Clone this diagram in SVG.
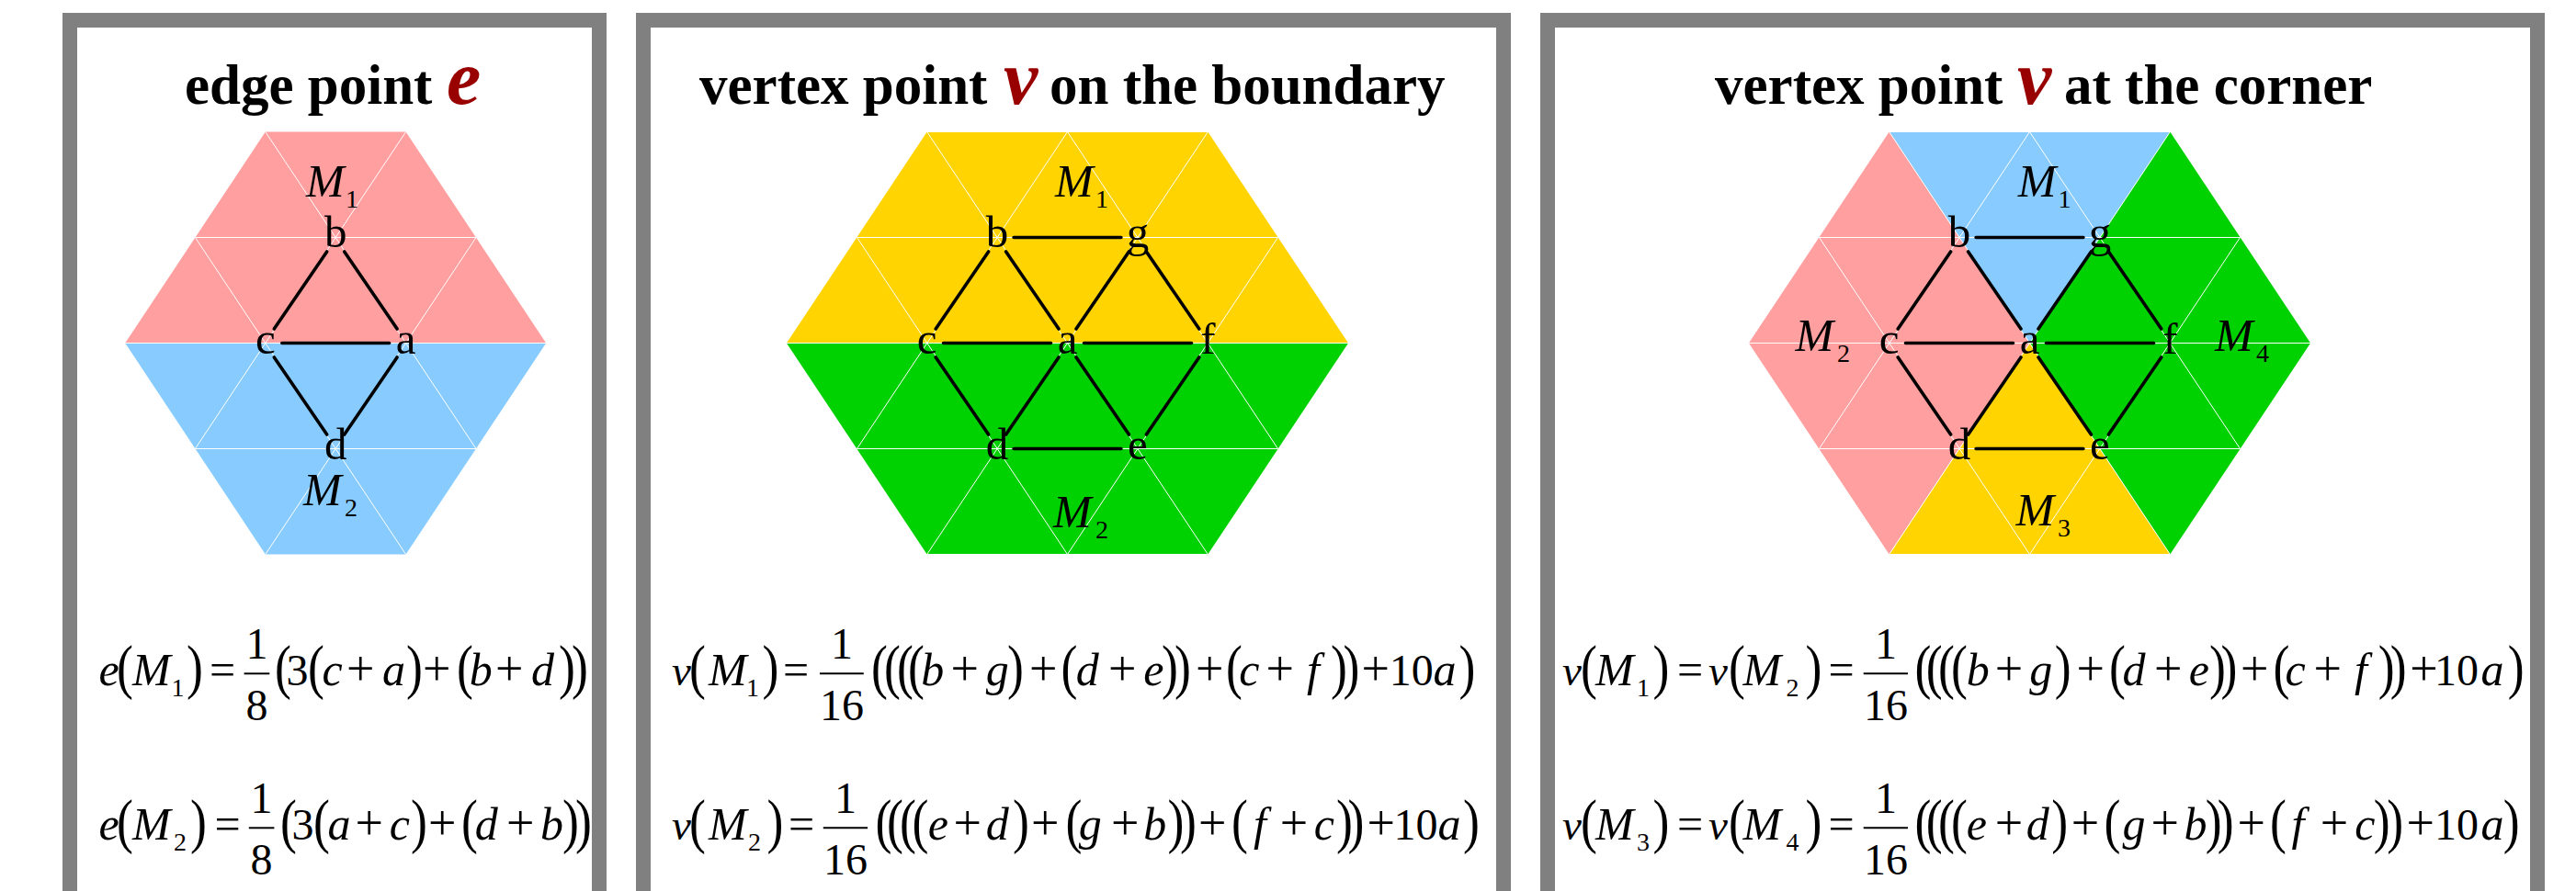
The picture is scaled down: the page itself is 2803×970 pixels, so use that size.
<svg xmlns="http://www.w3.org/2000/svg" width="2803" height="970" viewBox="0 0 2803 970">
<style>
text{font-family:"Liberation Serif","Times New Roman",serif;fill:#000}
.t{font-size:61px;font-weight:bold}
.r{font-size:84px;font-weight:bold;font-style:italic;fill:#990000}
.i{font-size:50px;font-style:italic}
.v{font-size:47px;font-style:italic}
.n{font-size:48px}
.o{font-size:54px}
.e{font-size:50px}
.p{font-size:48px}
.s{font-size:28px}
.l{font-size:49px;text-anchor:middle}
.m{font-size:48px;text-anchor:middle}
.frame{fill:#fff;stroke:#808080;stroke-width:16}
.grid{fill:none;stroke:#fff;stroke-width:1}
.edge{fill:none;stroke:#000;stroke-width:3.6;stroke-linecap:round}
.bar{stroke:#000;stroke-width:2}
.pink{fill:#ff9f9f}.blue{fill:#88ccff}.yellow{fill:#ffd400}.green{fill:#00d100}
</style>
<defs>
<path id="grid6" class="grid" d="M-229-115H229M-305.6 0H305.6M-229 115H229M-152.8-230H152.8M-152.8 230H152.8M-152.8-230L152.8 230M0-230L-229 115M0-230L229 115M152.8-230L-152.8 230M-229-115L0 230M229-115L0 230"/>
</defs>
<rect width="2803" height="970" fill="#fff"/>
<g id="frames">
<rect class="frame" x="76" y="22" width="576" height="1000"/>
<rect class="frame" x="700" y="22" width="936" height="1000"/>
<rect class="frame" x="1684" y="22" width="1077" height="1000"/>
</g>

<g id="panel1">
<text class="t" x="201" y="112.7">edge point</text><text class="r" x="486" y="112.7">e</text>
<g transform="translate(365.2,373.5)">
<path class="pink" d="M-76.4-230H76.4L229 0H-229Z"/>
<path class="blue" d="M-229 0H229L76.4 230H-76.4Z"/>
<path class="grid" d="M-152.8-115H152.8M-229 0H229M-152.8 115H152.8M-76.4-230L152.8 115M76.4-230L-152.8 115M-152.8-115L76.4 230M152.8-115L-76.4 230"/>
</g>
<g id="p1-connectors" transform="translate(365.2,373.5)">
<path class="edge" d="M-58.4 0H58.4M-9.5-99.5L-66.9-15.5M9.5-99.5L66.9-15.5M-66.9 15.5L-9.5 99.5M66.9 15.5L9.5 99.5"/>
</g>
<g id="p1-a"><text class="l" x="441.6" y="384.5">a</text></g>
<g id="p1-b"><text class="l" x="365.2" y="269">b</text></g>
<g id="p1-c"><text class="l" x="288.8" y="384.5">c</text></g>
<g id="p1-d"><text class="l" x="365.2" y="499.5">d</text></g>
<g id="p1-M1"><text class="i" x="333" y="213.5">M</text><text class="s" x="376" y="226">1</text></g>
<g id="p1-M2"><text class="i" x="330" y="549.6">M</text><text class="s" x="375" y="561.5">2</text></g>
<g id="p1-f1" transform="translate(0,746)">
<text class="i" x="107.5">e</text><text class="p" transform="translate(127,1.5) scale(1.12,1.37)">(</text><text class="i" x="144">M</text><text class="s" x="186.5" y="12">1</text><text class="p" transform="translate(203,1.5) scale(1.12,1.37)">)</text><text class="e" x="228">=</text>
<text class="m" x="279.5" y="-29">1</text><line class="bar" x1="265.6" x2="293.3" y1="-12.7" y2="-12.7"/><text class="m" x="279.5" y="38">8</text>
<text class="p" transform="translate(299,1.5) scale(1.12,1.37)">(</text><text class="n" x="311.5">3</text><text class="p" transform="translate(335,1.5) scale(1.12,1.37)">(</text><text class="i" x="350.6">c</text><text class="o" x="377">+</text><text class="i" x="415.9">a</text><text class="p" transform="translate(442,1.5) scale(1.12,1.37)">)</text><text class="o" x="460">+</text><text class="p" transform="translate(497,1.5) scale(1.12,1.37)">(</text><text class="i" x="510.8">b</text><text class="o" x="539">+</text><text class="i" x="578">d</text><text class="p" transform="translate(608,1.5) scale(1.12,1.37)">)</text><text class="p" transform="translate(622,1.5) scale(1.12,1.37)">)</text>
</g>
<g id="p1-f2" transform="translate(0,914)">
<text class="i" x="107.5">e</text><text class="p" transform="translate(127,1.5) scale(1.12,1.37)">(</text><text class="i" x="144">M</text><text class="s" x="189" y="12">2</text><text class="p" transform="translate(207,1.5) scale(1.12,1.37)">)</text><text class="e" x="233.5">=</text>
<text class="m" x="284.6" y="-29">1</text><line class="bar" x1="270.8" x2="298.4" y1="-12.7" y2="-12.7"/><text class="m" x="284.6" y="38">8</text>
<text class="p" transform="translate(305,1.5) scale(1.12,1.37)">(</text><text class="n" x="317.5">3</text><text class="p" transform="translate(341,1.5) scale(1.12,1.37)">(</text><text class="i" x="356.6">a</text><text class="o" x="386.5">+</text><text class="i" x="423.8">c</text><text class="p" transform="translate(447,1.5) scale(1.12,1.37)">)</text><text class="o" x="466">+</text><text class="p" transform="translate(502,1.5) scale(1.12,1.37)">(</text><text class="i" x="516.7">d</text><text class="o" x="551">+</text><text class="i" x="587.9">b</text><text class="p" transform="translate(612,1.5) scale(1.12,1.37)">)</text><text class="p" transform="translate(626,1.5) scale(1.12,1.37)">)</text>
</g>
</g>

<g id="panel2">
<text class="t" x="761" y="112.7">vertex point</text><text class="r" x="1092" y="112.7">v</text><text class="t" x="1142" y="112.7">on the boundary</text>
<g transform="translate(1161.5,373.5)">
<path class="yellow" d="M-152.8-230H152.8L305.6 0H-305.6Z"/>
<path class="green" d="M-305.6 0H305.6L152.8 230H-152.8Z"/>
<use href="#grid6"/>
</g>
<g id="p2-connectors" transform="translate(1161.5,373.5)">
<path class="edge" d="M-58.4-115H58.4M-58.4 115H58.4M-135 0H-18M18 0H135M-85.9-99.5L-143.3-15.5M-66.9-99.5L-9.5-15.5M66.9-99.5L9.5-15.5M85.9-99.5L143.3-15.5M-143.3 15.5L-85.9 99.5M-9.5 15.5L-66.9 99.5M9.5 15.5L66.9 99.5M143.3 15.5L85.9 99.5"/>
</g>
<g id="p2-a"><text class="l" x="1161.5" y="384.5">a</text></g>
<g id="p2-b"><text class="l" x="1085.1" y="269">b</text></g>
<g id="p2-g"><text class="l" x="1237.9" y="269">g</text></g>
<g id="p2-c"><text class="l" x="1008.7" y="384.5">c</text></g>
<g id="p2-f"><text class="l" x="1314.3" y="384.5">f</text></g>
<g id="p2-d"><text class="l" x="1085.1" y="499.5">d</text></g>
<g id="p2-e"><text class="l" x="1237.9" y="499.5">e</text></g>
<g id="p2-M1"><text class="i" x="1148" y="214">M</text><text class="s" x="1192" y="226">1</text></g>
<g id="p2-M2"><text class="i" x="1146" y="574">M</text><text class="s" x="1192" y="585.7">2</text></g>
<g id="p2-f1" transform="translate(0,746)">
<text class="v" x="731">v</text><text class="p" transform="translate(750,1.5) scale(1.12,1.37)">(</text><text class="i" x="771">M</text><text class="s" x="812" y="12">1</text><text class="p" transform="translate(829.5,1.5) scale(1.12,1.37)">)</text><text class="e" x="852">=</text>
<text class="m" x="915.9" y="-29">1</text><line class="bar" x1="892" x2="939.8" y1="-12.7" y2="-12.7"/><text class="m" x="915.9" y="38">16</text>
<text class="p" transform="translate(948,1.5) scale(1.12,1.37)">(</text><text class="p" transform="translate(962,1.5) scale(1.12,1.37)">(</text><text class="p" transform="translate(976,1.5) scale(1.12,1.37)">(</text><text class="p" transform="translate(988,1.5) scale(1.12,1.37)">(</text><text class="i" x="1002.3">b</text><text class="o" x="1034.5">+</text><text class="i" x="1072.7">g</text><text class="p" transform="translate(1096,1.5) scale(1.12,1.37)">)</text><text class="o" x="1120">+</text><text class="p" transform="translate(1154.5,1.5) scale(1.12,1.37)">(</text><text class="i" x="1170.7">d</text><text class="o" x="1206">+</text><text class="i" x="1244.2">e</text><text class="p" transform="translate(1264,1.5) scale(1.12,1.37)">)</text><text class="p" transform="translate(1278,1.5) scale(1.12,1.37)">)</text><text class="o" x="1301">+</text><text class="p" transform="translate(1334,1.5) scale(1.12,1.37)">(</text><text class="i" x="1348.3">c</text><text class="o" x="1377.5">+</text><text class="i" x="1422">f</text><text class="p" transform="translate(1448,1.5) scale(1.12,1.37)">)</text><text class="p" transform="translate(1461.5,1.5) scale(1.12,1.37)">)</text><text class="o" x="1481.5">+</text><text class="n" x="1511.7">10</text><text class="i" x="1559.6">a</text><text class="p" transform="translate(1587.5,1.5) scale(1.12,1.37)">)</text>
</g>
<g id="p2-f2" transform="translate(0,914)">
<text class="v" x="731">v</text><text class="p" transform="translate(750,1.5) scale(1.12,1.37)">(</text><text class="i" x="771">M</text><text class="s" x="814" y="12">2</text><text class="p" transform="translate(834.5,1.5) scale(1.12,1.37)">)</text><text class="e" x="858">=</text>
<text class="m" x="920" y="-29">1</text><line class="bar" x1="895.8" x2="944.1" y1="-12.7" y2="-12.7"/><text class="m" x="920" y="38">16</text>
<text class="p" transform="translate(952.5,1.5) scale(1.12,1.37)">(</text><text class="p" transform="translate(965,1.5) scale(1.12,1.37)">(</text><text class="p" transform="translate(979,1.5) scale(1.12,1.37)">(</text><text class="p" transform="translate(992.5,1.5) scale(1.12,1.37)">(</text><text class="i" x="1009.7">e</text><text class="o" x="1037.5">+</text><text class="i" x="1072.7">d</text><text class="p" transform="translate(1102,1.5) scale(1.12,1.37)">)</text><text class="o" x="1122">+</text><text class="p" transform="translate(1159.5,1.5) scale(1.12,1.37)">(</text><text class="i" x="1173.8">g</text><text class="o" x="1209">+</text><text class="i" x="1244.2">b</text><text class="p" transform="translate(1270.5,1.5) scale(1.12,1.37)">)</text><text class="p" transform="translate(1284,1.5) scale(1.12,1.37)">)</text><text class="o" x="1304">+</text><text class="p" transform="translate(1340,1.5) scale(1.12,1.37)">(</text><text class="i" x="1364">f</text><text class="o" x="1392.7">+</text><text class="i" x="1429.7">c</text><text class="p" transform="translate(1454,1.5) scale(1.12,1.37)">)</text><text class="p" transform="translate(1466.5,1.5) scale(1.12,1.37)">)</text><text class="o" x="1487.5">+</text><text class="n" x="1516.6">10</text><text class="i" x="1564.5">a</text><text class="p" transform="translate(1592,1.5) scale(1.12,1.37)">)</text>
</g>
</g>

<g id="panel3">
<text class="t" x="1866" y="112.7">vertex point</text><text class="r" x="2195" y="112.7">v</text><text class="t" x="2246" y="112.7">at the corner</text>
<g transform="translate(2208.5,373.5)">
<path class="blue" d="M-152.8-230H152.8L0 0Z"/>
<path class="pink" d="M-152.8-230L0 0L-152.8 230L-305.6 0Z"/>
<path class="green" d="M152.8-230L305.6 0L152.8 230L0 0Z"/>
<path class="yellow" d="M0 0L152.8 230H-152.8Z"/>
<use href="#grid6"/>
</g>
<g id="p3-connectors" transform="translate(2208.5,373.5)">
<path class="edge" d="M-58.4-115H58.4M-58.4 115H58.4M-135 0H-18M18 0H135M-85.9-99.5L-143.3-15.5M-66.9-99.5L-9.5-15.5M66.9-99.5L9.5-15.5M85.9-99.5L143.3-15.5M-143.3 15.5L-85.9 99.5M-9.5 15.5L-66.9 99.5M9.5 15.5L66.9 99.5M143.3 15.5L85.9 99.5"/>
</g>
<g id="p3-a"><text class="l" x="2208.5" y="384.5">a</text></g>
<g id="p3-b"><text class="l" x="2132.1" y="269">b</text></g>
<g id="p3-g"><text class="l" x="2284.9" y="269">g</text></g>
<g id="p3-c"><text class="l" x="2055.7" y="384.5">c</text></g>
<g id="p3-f"><text class="l" x="2361.3" y="384.5">f</text></g>
<g id="p3-d"><text class="l" x="2132.1" y="499.5">d</text></g>
<g id="p3-e"><text class="l" x="2284.9" y="499.5">e</text></g>
<g id="p3-M1"><text class="i" x="2195.7" y="214">M</text><text class="s" x="2239.5" y="225.5">1</text></g>
<g id="p3-M2"><text class="i" x="1953.6" y="382">M</text><text class="s" x="1999" y="394">2</text></g>
<g id="p3-M3"><text class="i" x="2193.5" y="572">M</text><text class="s" x="2239" y="584">3</text></g>
<g id="p3-M4"><text class="i" x="2410" y="382">M</text><text class="s" x="2455" y="394">4</text></g>
<g id="p3-f1" transform="translate(0,746)">
<text class="v" x="1700">v</text><text class="p" transform="translate(1720,1.5) scale(1.12,1.37)">(</text><text class="i" x="1736">M</text><text class="s" x="1781" y="12">1</text><text class="p" transform="translate(1798.5,1.5) scale(1.12,1.37)">)</text><text class="e" x="1825">=</text><text class="v" x="1859">v</text><text class="p" transform="translate(1881,1.5) scale(1.12,1.37)">(</text><text class="i" x="1896.5">M</text><text class="s" x="1943.6" y="12">2</text><text class="p" transform="translate(1964.5,1.5) scale(1.12,1.37)">)</text><text class="e" x="1989.6">=</text>
<text class="m" x="2052" y="-29">1</text><line class="bar" x1="2027.7" x2="2076" y1="-12.7" y2="-12.7"/><text class="m" x="2052" y="38">16</text>
<text class="p" transform="translate(2083.5,1.5) scale(1.12,1.37)">(</text><text class="p" transform="translate(2095.7,1.5) scale(1.12,1.37)">(</text><text class="p" transform="translate(2109,1.5) scale(1.12,1.37)">(</text><text class="p" transform="translate(2123,1.5) scale(1.12,1.37)">(</text><text class="i" x="2139.7">b</text><text class="o" x="2170.7">+</text><text class="i" x="2208.3">g</text><text class="p" transform="translate(2235.7,1.5) scale(1.12,1.37)">)</text><text class="o" x="2259.6">+</text><text class="p" transform="translate(2295,1.5) scale(1.12,1.37)">(</text><text class="i" x="2309.5">d</text><text class="o" x="2344">+</text><text class="i" x="2381.7">e</text><text class="p" transform="translate(2404,1.5) scale(1.12,1.37)">)</text><text class="p" transform="translate(2416.5,1.5) scale(1.12,1.37)">)</text><text class="o" x="2438">+</text><text class="p" transform="translate(2473.6,1.5) scale(1.12,1.37)">(</text><text class="i" x="2486.5">c</text><text class="o" x="2517.5">+</text><text class="i" x="2562">f</text><text class="p" transform="translate(2587.7,1.5) scale(1.12,1.37)">)</text><text class="p" transform="translate(2600.7,1.5) scale(1.12,1.37)">)</text><text class="o" x="2622.3">+</text><text class="n" x="2649">10</text><text class="i" x="2699.6">a</text><text class="p" transform="translate(2728.7,1.5) scale(1.12,1.37)">)</text>
</g>
<g id="p3-f2" transform="translate(0,914)">
<text class="v" x="1700">v</text><text class="p" transform="translate(1720,1.5) scale(1.12,1.37)">(</text><text class="i" x="1736">M</text><text class="s" x="1781" y="12">3</text><text class="p" transform="translate(1798.5,1.5) scale(1.12,1.37)">)</text><text class="e" x="1825">=</text><text class="v" x="1859">v</text><text class="p" transform="translate(1881,1.5) scale(1.12,1.37)">(</text><text class="i" x="1896.5">M</text><text class="s" x="1943.6" y="12">4</text><text class="p" transform="translate(1964.5,1.5) scale(1.12,1.37)">)</text><text class="e" x="1989.6">=</text>
<text class="m" x="2052" y="-29">1</text><line class="bar" x1="2027.7" x2="2076" y1="-12.7" y2="-12.7"/><text class="m" x="2052" y="38">16</text>
<text class="p" transform="translate(2083.5,1.5) scale(1.12,1.37)">(</text><text class="p" transform="translate(2095.7,1.5) scale(1.12,1.37)">(</text><text class="p" transform="translate(2109,1.5) scale(1.12,1.37)">(</text><text class="p" transform="translate(2123,1.5) scale(1.12,1.37)">(</text><text class="i" x="2139.7">e</text><text class="o" x="2170.7">+</text><text class="i" x="2204.7">d</text><text class="p" transform="translate(2232.3,1.5) scale(1.12,1.37)">)</text><text class="o" x="2253.8">+</text><text class="p" transform="translate(2289.4,1.5) scale(1.12,1.37)">(</text><text class="i" x="2309.5">g</text><text class="o" x="2340.5">+</text><text class="i" x="2376.6">b</text><text class="p" transform="translate(2399.7,1.5) scale(1.12,1.37)">)</text><text class="p" transform="translate(2412.7,1.5) scale(1.12,1.37)">)</text><text class="o" x="2434.5">+</text><text class="p" transform="translate(2470,1.5) scale(1.12,1.37)">(</text><text class="i" x="2493.5">f</text><text class="o" x="2524.7">+</text><text class="i" x="2562.3">c</text><text class="p" transform="translate(2582.7,1.5) scale(1.12,1.37)">)</text><text class="p" transform="translate(2597.2,1.5) scale(1.12,1.37)">)</text><text class="o" x="2618.6">+</text><text class="n" x="2649">10</text><text class="i" x="2699.6">a</text><text class="p" transform="translate(2723.7,1.5) scale(1.12,1.37)">)</text>
</g>
</g>
</svg>
